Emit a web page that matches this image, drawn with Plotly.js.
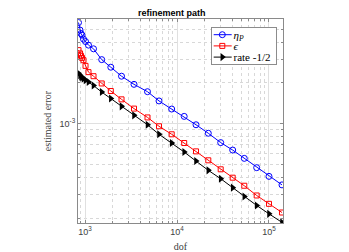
<!DOCTYPE html>
<html>
<head>
<meta charset="utf-8">
<script src="https://cdn.plot.ly/plotly-3.0.1.min.js"></script>
<style>html,body{margin:0;padding:0;background:#fff;}#chart{width:349px;height:252px;}</style>
</head>
<body>
<div id="chart"></div>
<script>
// degrees of freedom (shared by all series)
const dof = [850, 883, 904, 928, 963, 1013, 1091, 1237, 1519, 1907, 2494, 3409, 4778, 6373, 8757, 11975, 16089, 21887, 29854, 40311, 53887, 73483, 100000, 138400];
// estimator eta_P
const etaP = [5.58e-3, 4.91e-3, 4.63e-3, 4.51e-3, 4.21e-3, 4.04e-3, 3.80e-3, 3.57e-3, 2.97e-3, 2.61e-3, 2.24e-3, 1.95e-3, 1.72e-3, 1.47e-3, 1.28e-3, 1.13e-3, 9.80e-4, 8.48e-4, 7.23e-4, 6.37e-4, 5.53e-4, 4.72e-4, 4.07e-4, 3.52e-4];
// error epsilon
const eps = [3.49e-3, 3.30e-3, 3.17e-3, 3.06e-3, 2.94e-3, 2.67e-3, 2.40e-3, 2.24e-3, 1.98e-3, 1.74e-3, 1.51e-3, 1.29e-3, 1.11e-3, 9.55e-4, 8.33e-4, 7.18e-4, 6.23e-4, 5.35e-4, 4.59e-4, 3.98e-4, 3.47e-4, 2.94e-4, 2.55e-4, 2.20e-4];
// reference rate -1/2
const rate = [2.35e-3, 2.28e-3, 2.22e-3, 2.19e-3, 2.15e-3, 2.09e-3, 2.03e-3, 1.91e-3, 1.71e-3, 1.53e-3, 1.34e-3, 1.15e-3, 9.80e-4, 8.33e-4, 7.18e-4, 6.16e-4, 5.28e-4, 4.51e-4, 3.91e-4, 3.36e-4, 2.89e-4, 2.48e-4, 2.15e-4, 1.86e-4];

const seriesNames = ['<i>η</i><sub><i>P</i></sub>', '<i>ϵ</i>', 'rate -1/2'];
const xTickVals = [1e3, 1e4, 1e5];
const xTickText = ['10<sup>3</sup>', '10<sup>4</sup>', '10<sup>5</sup>'];
const yTickVals = [1e-3];
const yTickText = ['10<sup>-3</sup>'];
const xMinor = [900, 2000, 3000, 4000, 5000, 6000, 7000, 8000, 9000, 20000, 30000, 40000, 50000, 60000, 70000, 80000, 90000];
const yMinor = [2e-4, 3e-4, 4e-4, 5e-4, 6e-4, 7e-4, 8e-4, 9e-4, 2e-3, 3e-3, 4e-3, 5e-3];

const traces = [
  {x: dof, y: etaP, name: seriesNames[0], mode: 'lines+markers', type: 'scatter',
   line: {color: '#0000ff', width: 1}, marker: {symbol: 'circle-open', size: 6, color: '#0000ff', line: {width: 1, color: '#0000ff'}}},
  {x: dof, y: eps, name: seriesNames[1], mode: 'lines+markers', type: 'scatter',
   line: {color: '#ff0000', width: 1}, marker: {symbol: 'square-open', size: 5, color: '#ff0000', line: {width: 1, color: '#ff0000'}}},
  {x: dof, y: rate, name: seriesNames[2], mode: 'lines+markers', type: 'scatter',
   line: {color: '#000000', width: 1}, marker: {symbol: 'triangle-right', size: 7, color: '#000000'}}
];

const axisCommon = {
  type: 'log', showline: true, linecolor: '#8a8a8a', linewidth: 1, mirror: 'ticks',
  ticks: 'inside', ticklen: 3, tickcolor: '#8a8a8a', tickwidth: 1,
  showgrid: true, gridcolor: '#e0e0e0', gridwidth: 1, zeroline: false,
  tickfont: {family: 'Liberation Sans, Arial, sans-serif', size: 9, color: '#404040'},
  minor: {showgrid: true, griddash: 'dot', gridcolor: '#d8d8d8', gridwidth: 1, ticks: 'inside', ticklen: 2, tickcolor: '#8a8a8a'}
};

const layout = {
  width: 349, height: 252,
  margin: {l: 78, r: 66, t: 19, b: 29, pad: 0},
  paper_bgcolor: '#ffffff', plot_bgcolor: '#ffffff',
  showlegend: true,
  title: {text: '<b>refinement path</b>', font: {family: 'Liberation Sans, Arial, sans-serif', size: 9, color: '#000'},
          x: 0.4576, xref: 'paper', xanchor: 'center', y: 0.95, yref: 'container', yanchor: 'middle'},
  xaxis: Object.assign({}, axisCommon, {
    range: [Math.log10(839), Math.log10(142000)],
    tickmode: 'array', tickvals: xTickVals, ticktext: xTickText,
    minor: Object.assign({}, axisCommon.minor, {tickmode: 'array', tickvals: xMinor}),
    title: {text: 'dof', font: {family: 'Liberation Serif, serif', size: 10, color: '#404040'}, standoff: 12}
  }),
  yaxis: Object.assign({}, axisCommon, {
    range: [Math.log10(1.84e-4), Math.log10(5.93e-3)],
    tickmode: 'array', tickvals: yTickVals, ticktext: yTickText,
    minor: Object.assign({}, axisCommon.minor, {tickmode: 'array', tickvals: yMinor}),
    title: {text: 'estimated error', font: {family: 'Liberation Serif, serif', size: 10, color: '#404040'}, standoff: 6}
  }),
  legend: {x: 0.652, y: 0.957, xanchor: 'left', yanchor: 'top', bgcolor: '#ffffff', bordercolor: '#404040', borderwidth: 0.6,
           font: {family: 'Liberation Serif, serif', size: 11, color: '#000'}, tracegroupgap: 0, itemwidth: 30}
};

Plotly.newPlot('chart', traces, layout, {staticPlot: true, displayModeBar: false}).then(function (gd) {
  // compact the legend to MATLAB-like spacing
  const leg = gd.querySelector('g.legend');
  if (!leg) return;
  leg.setAttribute('transform', 'translate(211,27.3)');
  const bg = leg.querySelector('rect.bg');
  if (bg) { bg.setAttribute('x', 0); bg.setAttribute('y', 0); bg.setAttribute('width', 65.5); bg.setAttribute('height', 37.4); }
  const sb = leg.querySelector('g.scrollbox');
  if (sb) sb.setAttribute('transform', 'translate(0,0)');
  const clip = gd.querySelector('clipPath[id^="legend"] rect');
  if (clip) { clip.setAttribute('x', 0); clip.setAttribute('y', 0); clip.setAttribute('width', 66); clip.setAttribute('height', 38); }
  const items = leg.querySelectorAll('g.traces');
  items.forEach(function (g, i) {
    g.setAttribute('transform', 'translate(0,' + (7.4 + 11.2 * i) + ')');
    g.querySelectorAll('.legendlines path').forEach(function (p) { p.setAttribute('d', 'M2.7,0h18'); });
    g.querySelectorAll('.legendsymbols .legendpoints path').forEach(function (p) { p.setAttribute('transform', 'translate(11.3,0)'); });
    const t = g.querySelector('text.legendtext');
    if (t) {
      t.setAttribute('x', 22.5);
      t.querySelectorAll('tspan[x]').forEach(function (s) { s.setAttribute('x', 22.5); });
    }
  });
});
</script>
</body>
</html>
